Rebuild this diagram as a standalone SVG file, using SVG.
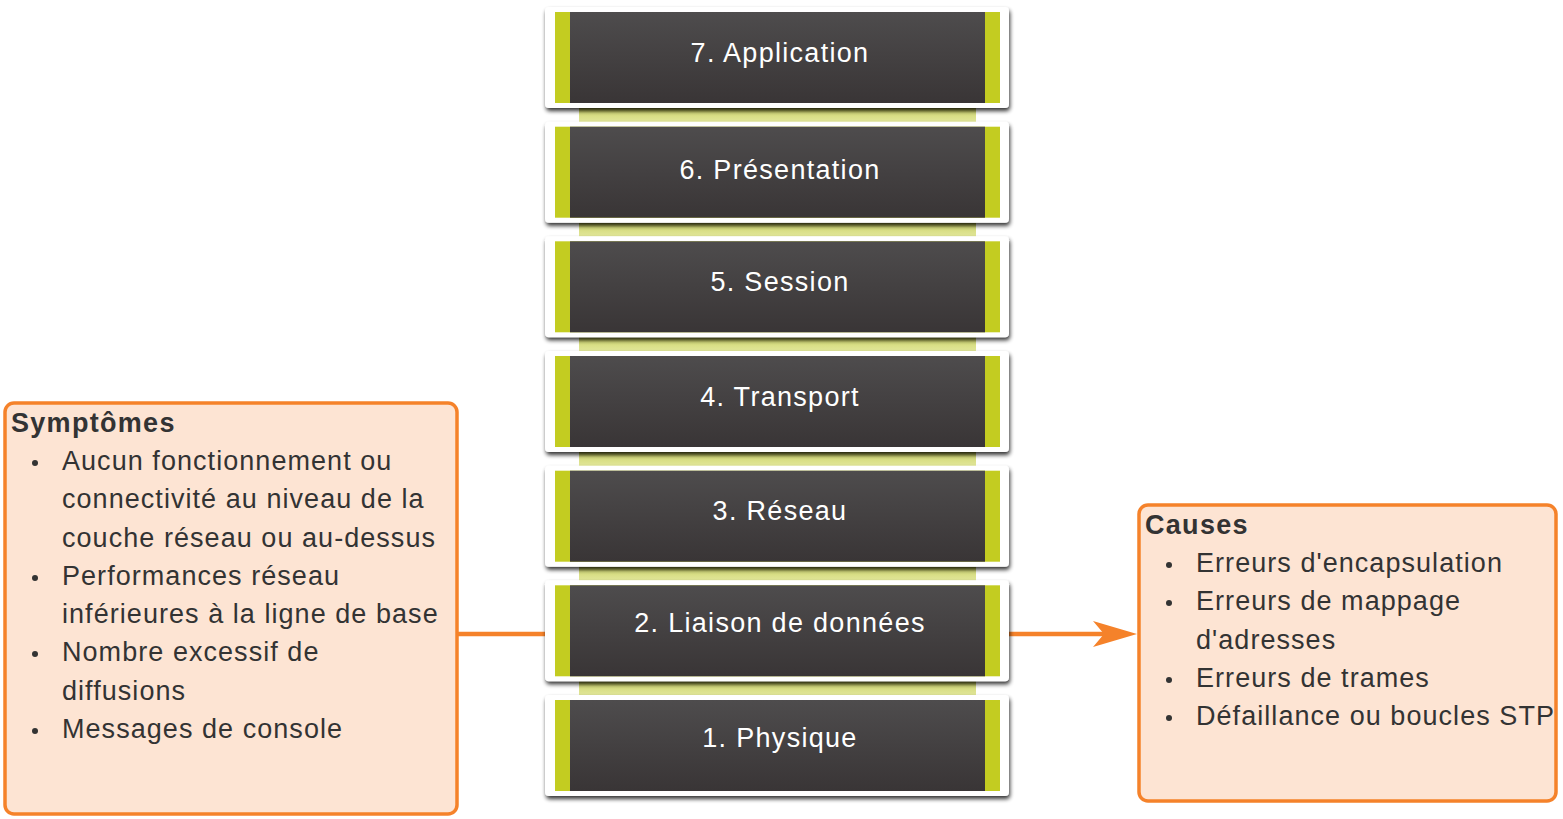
<svg xmlns="http://www.w3.org/2000/svg" width="1563" height="819" viewBox="0 0 1563 819">
<style>
.lt{font-family:"Liberation Sans",Arial,sans-serif;font-size:27px;letter-spacing:1.3px;fill:#ffffff;text-anchor:middle}
.bt{font-family:"Liberation Sans",Arial,sans-serif;font-size:27px;letter-spacing:1.05px;fill:#333333}
.hd{font-family:"Liberation Sans",Arial,sans-serif;font-size:27px;letter-spacing:1.3px;font-weight:bold;fill:#333333}
.box{fill:#FDE4D3;stroke:#F5822A;stroke-width:3.5}
.con{stroke:#F5822A;stroke-width:4.5;fill:none}
</style>
<defs>
<linearGradient id="dk" x1="0" y1="0" x2="0" y2="1">
<stop offset="0" stop-color="#4e4c4d"/><stop offset="1" stop-color="#393536"/>
</linearGradient>
<linearGradient id="band" x1="0" y1="0" x2="0" y2="1">
<stop offset="0" stop-color="#9fa43a"/><stop offset="0.35" stop-color="#d4da7c"/><stop offset="1" stop-color="#e2e79a"/>
</linearGradient>
<filter id="sh" x="-5%" y="-10%" width="110%" height="125%">
<feGaussianBlur in="SourceAlpha" stdDeviation="2"/><feOffset dx="1" dy="3"/>
<feComponentTransfer><feFuncA type="linear" slope="0.8"/></feComponentTransfer>
<feMerge><feMergeNode/><feMergeNode in="SourceGraphic"/></feMerge>
</filter>
<g id="layer">
<rect x="545" y="0" width="464" height="101" rx="4" fill="#ffffff" filter="url(#sh)"/>
<rect x="555" y="5" width="445" height="91" fill="#C3CC21"/>
<rect x="570" y="5" width="415" height="91" fill="url(#dk)"/>
</g>
</defs>
<g id="bands">
<rect x="579" y="108" width="397" height="14" fill="url(#band)"/>
<rect x="579" y="222.7" width="397" height="14" fill="url(#band)"/>
<rect x="579" y="337.3" width="397" height="14" fill="url(#band)"/>
<rect x="579" y="452" width="397" height="14" fill="url(#band)"/>
<rect x="579" y="566.7" width="397" height="14" fill="url(#band)"/>
<rect x="579" y="681.3" width="397" height="14" fill="url(#band)"/>
</g>
<g id="connectors">
<line class="con" x1="457" y1="634" x2="545" y2="634"/>
<line class="con" x1="1009" y1="634" x2="1110" y2="634"/>
<path d="M1093,621 L1137,634 L1093,647 L1104,634 Z" fill="#F5822A"/>
</g>
<g id="l7"><use href="#layer" y="7"/><text class="lt" x="780" y="62">7. Application</text></g>
<g id="l6"><use href="#layer" y="121.7"/><text class="lt" x="780" y="179">6. Présentation</text></g>
<g id="l5"><use href="#layer" y="236.3"/><text class="lt" x="780" y="291">5. Session</text></g>
<g id="l4"><use href="#layer" y="351"/><text class="lt" x="780" y="406">4. Transport</text></g>
<g id="l3"><use href="#layer" y="465.7"/><text class="lt" x="780" y="520">3. Réseau</text></g>
<g id="l2"><use href="#layer" y="580.3"/><text class="lt" x="780" y="632">2. Liaison de données</text></g>
<g id="l1"><use href="#layer" y="695"/><text class="lt" x="780" y="747">1. Physique</text></g>
<g id="symptomes">
<rect class="box" x="5" y="403" width="452" height="411" rx="9"/>
<text class="hd" x="11" y="432">Symptômes</text>
<g class="bt">
<circle cx="35" cy="463" r="3" fill="#333"/>
<text x="62" y="470">Aucun fonctionnement ou</text>
<text x="62" y="508">connectivité au niveau de la</text>
<text x="62" y="547">couche réseau ou au-dessus</text>
<circle cx="35" cy="578" r="3" fill="#333"/>
<text x="62" y="585">Performances réseau</text>
<text x="62" y="623">inférieures à la ligne de base</text>
<circle cx="35" cy="654" r="3" fill="#333"/>
<text x="62" y="661">Nombre excessif de</text>
<text x="62" y="700">diffusions</text>
<circle cx="35" cy="731" r="3" fill="#333"/>
<text x="62" y="738">Messages de console</text>
</g>
</g>
<g id="causes">
<rect class="box" x="1139" y="505" width="417" height="296" rx="9"/>
<text class="hd" x="1145" y="534">Causes</text>
<g class="bt">
<circle cx="1169" cy="565" r="3" fill="#333"/>
<text x="1196" y="572">Erreurs d'encapsulation</text>
<circle cx="1169" cy="603" r="3" fill="#333"/>
<text x="1196" y="610">Erreurs de mappage</text>
<text x="1196" y="649">d'adresses</text>
<circle cx="1169" cy="680" r="3" fill="#333"/>
<text x="1196" y="687">Erreurs de trames</text>
<circle cx="1169" cy="718" r="3" fill="#333"/>
<text x="1196" y="725">Défaillance ou boucles STP</text>
</g>
</g>
</svg>
